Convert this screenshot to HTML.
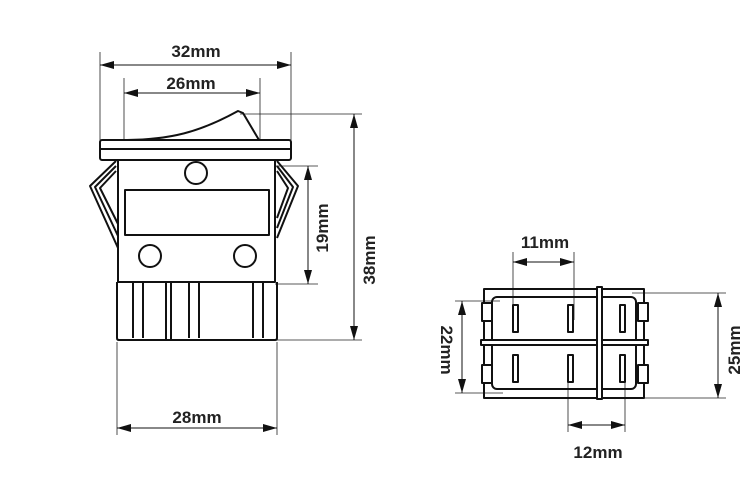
<!DOCTYPE html>
<html><head><style>body{margin:0;background:#fff}svg{display:block}text{font-family:"Liberation Sans",sans-serif;font-weight:bold;font-size:17px;fill:#222}</style></head><body>
<svg width="750" height="500" viewBox="0 0 750 500" xmlns="http://www.w3.org/2000/svg">
<defs>
<marker id="a" viewBox="0 0 14 8" refX="14" refY="4" markerWidth="14" markerHeight="8" orient="auto-start-reverse" markerUnits="userSpaceOnUse"><path d="M0,0L14,4L0,8z" fill="#111"/></marker>
</defs>
<g stroke="#222" stroke-width="0.8" fill="none">
<line x1="100" y1="52" x2="100" y2="140"/>
<line x1="124" y1="78" x2="124" y2="140"/>
<line x1="260" y1="78" x2="260" y2="140"/>
<line x1="291" y1="52" x2="291" y2="140"/>
<line x1="117" y1="342" x2="117" y2="435"/>
<line x1="277" y1="342" x2="277" y2="435"/>
<line x1="240" y1="114" x2="362" y2="114"/>
<line x1="240" y1="340" x2="362" y2="340"/>
<line x1="275" y1="166" x2="318" y2="166"/>
<line x1="275" y1="284" x2="318" y2="284"/>
<line x1="513" y1="252" x2="513" y2="320"/>
<line x1="574" y1="252" x2="574" y2="320"/>
<line x1="568" y1="378" x2="568" y2="432"/>
<line x1="625" y1="378" x2="625" y2="432"/>
<line x1="455" y1="301" x2="500" y2="301"/>
<line x1="455" y1="393" x2="503" y2="393"/>
<line x1="632" y1="293" x2="726" y2="293"/>
<line x1="632" y1="398" x2="726" y2="398"/>
</g>
<g stroke="#111" stroke-width="1" fill="none" marker-start="url(#a)" marker-end="url(#a)">
<line x1="100" y1="65" x2="291" y2="65"/>
<line x1="124" y1="93" x2="260" y2="93"/>
<line x1="117" y1="428" x2="277" y2="428"/>
<line x1="354" y1="114" x2="354" y2="340"/>
<line x1="308" y1="166" x2="308" y2="284"/>
<line x1="513" y1="262" x2="574" y2="262"/>
<line x1="568" y1="425" x2="625" y2="425"/>
<line x1="462" y1="301" x2="462" y2="393"/>
<line x1="718" y1="293" x2="718" y2="398"/>
</g>
<text x="196" y="57" text-anchor="middle">32mm</text>
<text x="191" y="89" text-anchor="middle">26mm</text>
<text x="197" y="423" text-anchor="middle">28mm</text>
<text x="545" y="248" text-anchor="middle">11mm</text>
<text x="598" y="458" text-anchor="middle">12mm</text>
<text transform="translate(375,260) rotate(-90)" text-anchor="middle">38mm</text>
<text transform="translate(328,228) rotate(-90)" text-anchor="middle">19mm</text>
<text transform="translate(441,350) rotate(90)" text-anchor="middle">22mm</text>
<text transform="translate(740,350) rotate(-90)" text-anchor="middle">25mm</text>
<g stroke="#111" stroke-width="2" fill="none" stroke-linejoin="round">
<path d="M124,140 C170,140 200,132 238,111 L243,113 L259,140"/>
<rect x="100" y="140" width="191" height="20" rx="2"/>
<line x1="100" y1="149" x2="291" y2="149"/>
<rect x="118" y="160" width="157" height="122"/>
<circle cx="196" cy="173" r="11"/>
<rect x="125" y="190" width="144" height="45"/>
<circle cx="150" cy="256" r="11"/>
<circle cx="245" cy="256" r="11"/>
<path d="M117,282 V338 Q117,340 119,340 H275 Q277,340 277,338 V282"/>
<path d="M133,282V338M143,282V338M166,282V340M171,282V340M189,282V338M199,282V338M253,282V338M263,282V338"/>
<path d="M116,161 L90,186 L118,248 M116,166 L95,187 L118,236 M116,171 L100,188 L118,224"/>
<path d="M277,161 L298,186 L277,238 M277,166 L293,187 L277,228 M277,171 L288,188 L277,218"/>
<rect x="484" y="289" width="160" height="109"/>
<rect x="492" y="297" width="144" height="92" rx="5"/>
<rect x="481" y="340" width="167" height="5" fill="#fff"/>
<rect x="597" y="287" width="5" height="112" fill="#fff"/>
<rect x="482" y="303" width="10" height="18" fill="#fff"/>
<rect x="482" y="365" width="10" height="18" fill="#fff"/>
<rect x="638" y="303" width="10" height="18" fill="#fff"/>
<rect x="638" y="365" width="10" height="18" fill="#fff"/>
<rect x="513" y="305" width="5" height="27"/>
<rect x="568" y="305" width="5" height="27"/>
<rect x="620" y="305" width="5" height="27"/>
<rect x="513" y="355" width="5" height="27"/>
<rect x="568" y="355" width="5" height="27"/>
<rect x="620" y="355" width="5" height="27"/>
</g>
</svg>
</body></html>
